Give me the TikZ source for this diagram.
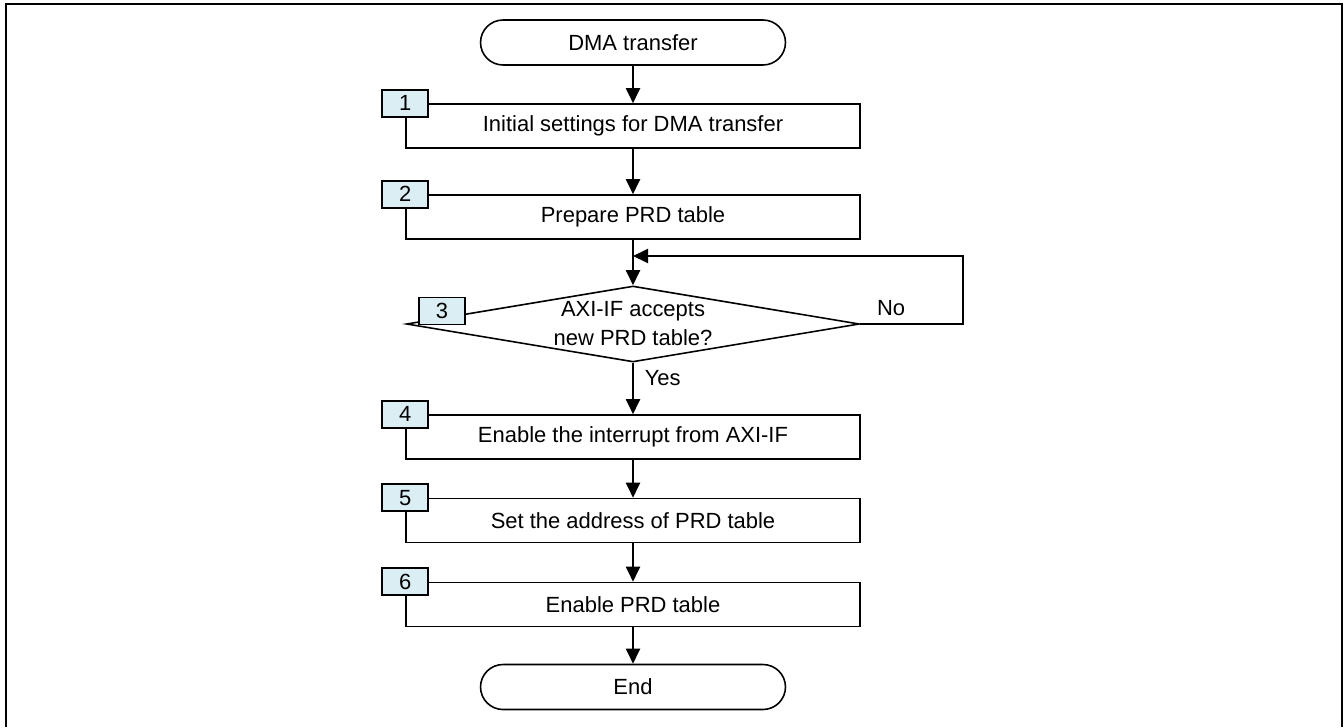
\documentclass[tikz,border=0pt]{standalone}
\usepackage{fontspec}
\setmainfont{Liberation Sans}
\usetikzlibrary{positioning,arrows.meta,shapes.geometric}
\definecolor{tagblue}{RGB}{219,238,244}

\begin{document}
\begin{tikzpicture}[x=0.02cm,y=-0.02cm,>={Triangle[length=0.3cm,width=0.28cm]},
  font=\fontsize{12.5}{16.5}\selectfont,
  term/.style={draw,line width=0.9pt,rounded corners=0.45cm,minimum width=6.1cm,minimum height=0.9cm},
  procbox/.style={draw,line width=0.9pt,minimum width=9.08cm,minimum height=0.88cm},
  tag/.style={draw,line width=0.9pt,fill=tagblue,minimum width=0.92cm,minimum height=0.54cm,inner sep=0pt},
  flow/.style={->,line width=1.1pt}]
\useasboundingbox (0,0) rectangle (1344,727);
\draw[line width=1.6pt] (6,727) |- (1342,4) -- (1342,727);
\node[term] (start) at (633,42.5) {DMA transfer};
\node[procbox] (s1) at (633,126) {Initial settings for DMA transfer};
\node[procbox] (s2) at (633,217) {Prepare PRD table};
\node[draw,diamond,shape aspect=5.9,minimum width=9.06cm,minimum height=1.52cm,inner sep=0pt,align=center,line width=0.9pt] (chk) at (633,324) {AXI-IF accepts\\new PRD table?};
\node[procbox] (s4) at (633,437) {Enable the interrupt from AXI-IF};
\node[procbox] (s5) at (633,520.5) {Set the address of PRD table};
\node[procbox] (s6) at (633,604.5) {Enable PRD table};
\node[term] (stop) at (633,687) {End};
% step numbers
\node[tag] (t1) at (s1.north west) {1};
\node[tag] (t2) at (s2.north west) {2};
\node[tag] (t3) at (442,311) {3};
\node[tag] (t4) at (s4.north west) {4};
\node[tag] (t5) at (s5.north west) {5};
\node[tag] (t6) at (s6.north west) {6};
\coordinate (loopR) at (963,256);
\coordinate (join) at (633,256);
\draw[flow] (start) -- (s1);
\draw[flow] (s1) -- (s2);
\draw[flow] (s2) -- (chk);
\draw[flow] (chk.east) -- node[pos=0.3,above=1pt]{No} (chk.east -| loopR) -- (loopR) -- (join);
\draw[flow] (chk) -- node[pos=0.3,right=0.1cm]{Yes} (s4);
\draw[flow] (s4) -- (s5);
\draw[flow] (s5) -- (s6);
\draw[flow] (s6) -- (stop);
\end{tikzpicture}
\end{document}
